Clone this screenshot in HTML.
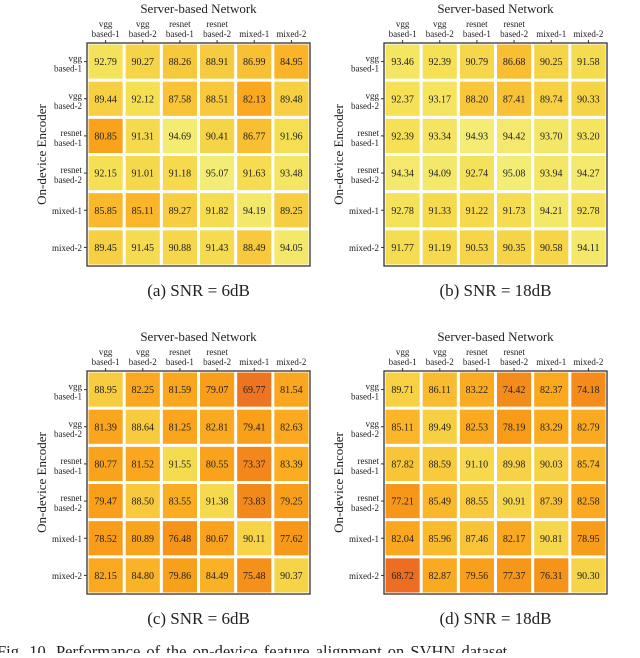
<!DOCTYPE html>
<html><head><meta charset="utf-8"><style>
body{margin:0;background:#fff;width:640px;height:653px;overflow:hidden;font-family:"Liberation Serif",serif}
svg text{font-family:"Liberation Serif",serif;fill:#222}
</style></head><body>
<svg id="fig" width="640" height="653" viewBox="0 0 640 653" xmlns="http://www.w3.org/2000/svg"></svg>
<script>
const colLabels=[["vgg","based-1"],["vgg","based-2"],["resnet","based-1"],["resnet","based-2"],["","mixed-1"],["","mixed-2"]];
const rowLabels=colLabels;
const valuesA=[[92.79,90.27,88.26,88.91,86.99,84.95],[89.44,92.12,87.58,88.51,82.13,89.48],[80.85,91.31,94.69,90.41,86.77,91.96],[92.15,91.01,91.18,95.07,91.63,93.48],[85.85,85.11,89.27,91.82,94.19,89.25],[89.45,91.45,90.88,91.43,88.49,94.05]];
const valuesB=[[93.46,92.39,90.79,86.68,90.25,91.58],[92.37,93.17,88.20,87.41,89.74,90.33],[92.39,93.34,94.93,94.42,93.70,93.20],[94.34,94.09,92.74,95.08,93.94,94.27],[92.78,91.33,91.22,91.73,94.21,92.78],[91.77,91.19,90.53,90.35,90.58,94.11]];
const valuesC=[[88.95,82.25,81.59,79.07,69.77,81.54],[81.39,88.64,81.25,82.81,79.41,82.63],[80.77,81.52,91.55,80.55,73.37,83.39],[79.47,88.50,83.55,91.38,73.83,79.25],[78.52,80.89,76.48,80.67,90.11,77.62],[82.15,84.80,79.86,84.49,75.48,90.37]];
const valuesD=[[89.71,86.11,83.22,74.42,82.37,74.18],[85.11,89.49,82.53,78.19,83.29,82.79],[87.82,88.59,91.10,89.98,90.03,85.74],[77.21,85.49,88.55,90.91,87.39,82.58],[82.04,85.96,87.46,82.17,90.81,78.95],[68.72,82.87,79.56,77.37,76.31,90.30]];
const captions=["(a)  SNR = 6dB","(b)  SNR = 18dB","(c)  SNR = 6dB","(d)  SNR = 18dB"];
const stops=[[68,[236,106,36]],[73,[243,134,28]],[78,[248,154,24]],[84,[251,174,34]],[88,[248,198,58]],[92,[245,222,82]],[96,[243,241,128]]];
function color(v){
  if(v<=stops[0][0])return 'rgb('+stops[0][1]+')';
  for(let i=1;i<stops.length;i++){if(v<=stops[i][0]){const a=stops[i-1],b=stops[i],t=(v-a[0])/(b[0]-a[0]);
    return 'rgb('+a[1].map((c,k)=>Math.round(c+(b[1][k]-c)*t)).join(',')+')';}}
  return 'rgb('+stops[stops.length-1][1]+')';
}
const NS="http://www.w3.org/2000/svg",svg=document.getElementById('fig');
function el(tag,attrs,parent,txt){const e=document.createElementNS(NS,tag);for(const k in attrs)e.setAttribute(k,attrs[k]);if(txt!==undefined)e.textContent=txt;(parent||svg).appendChild(e);return e;}
function panel(vals,x0,y0,cap,id){
  const g=el('g',{});
  
  
  const W=223,n=6,cs=W/n;
  const xs=i=>x0+i*cs, ys=j=>y0+j*cs;
  const t=el('text',{x:x0+W/2,y:y0-30,'text-anchor':'middle','font-size':13},g,'Server-based Network');
  
  const yt=el('text',{x:0,y:0,'text-anchor':'middle','font-size':13,transform:'translate('+(x0-41)+','+(y0+W/2)+') rotate(-90)'},g,'On-device Encoder');
  
  for(let j=0;j<n;j++)for(let i=0;i<n;i++){
    const v=vals[j][i];
    const r=el('rect',{x:xs(i)+1.5,y:ys(j)+1.5,width:cs-3,height:cs-3,fill:color(v)},g);
    
    const tx=el('text',{x:xs(i)+cs/2,y:ys(j)+cs/2+3.5,'text-anchor':'middle','font-size':10},g,v.toFixed(2));
    
  }
  for(let i=0;i<n;i++){
    const cx=xs(i)+cs/2;
    el('line',{x1:cx,x2:cx,y1:y0-3,y2:y0,stroke:'#333','stroke-width':1},g);
    const l=el('text',{x:cx,y:y0-6,'text-anchor':'middle','font-size':9},g,colLabels[i][1]);
    
    if(colLabels[i][0]){el('text',{x:cx,y:y0-16,'text-anchor':'middle','font-size':9},g,colLabels[i][0]);}
    const cy=ys(i)+cs/2;
    el('line',{x1:x0-3,x2:x0,y1:cy,y2:cy,stroke:'#333','stroke-width':1},g);
    const rl=el('text',{x:x0-5,y:rowLabels[i][0]?cy+10:cy+3.5,'text-anchor':'end','font-size':9},g,rowLabels[i][1]);
    
    if(rowLabels[i][0])el('text',{x:x0-5,y:cy,'text-anchor':'end','font-size':9},g,rowLabels[i][0]);
  }
  el('rect',{x:x0,y:y0,width:W,height:W,fill:'none',stroke:'#333','stroke-width':1.3},g);
  const c=el('text',{x:x0+W/2,y:y0+W+30,'text-anchor':'middle','font-size':17},g,cap);
  
}
panel(valuesA,87,43,captions[0],'a');
panel(valuesB,384,43,captions[1],'b');
panel(valuesC,87,371,captions[2],'c');
panel(valuesD,384,371,captions[3],'d');
const fc=el('text',{x:-3,y:657,'font-size':16.5,'word-spacing':'2'},svg,'Fig. 10.   Performance of the on-device feature alignment on SVHN dataset');


</script>
</body></html>
